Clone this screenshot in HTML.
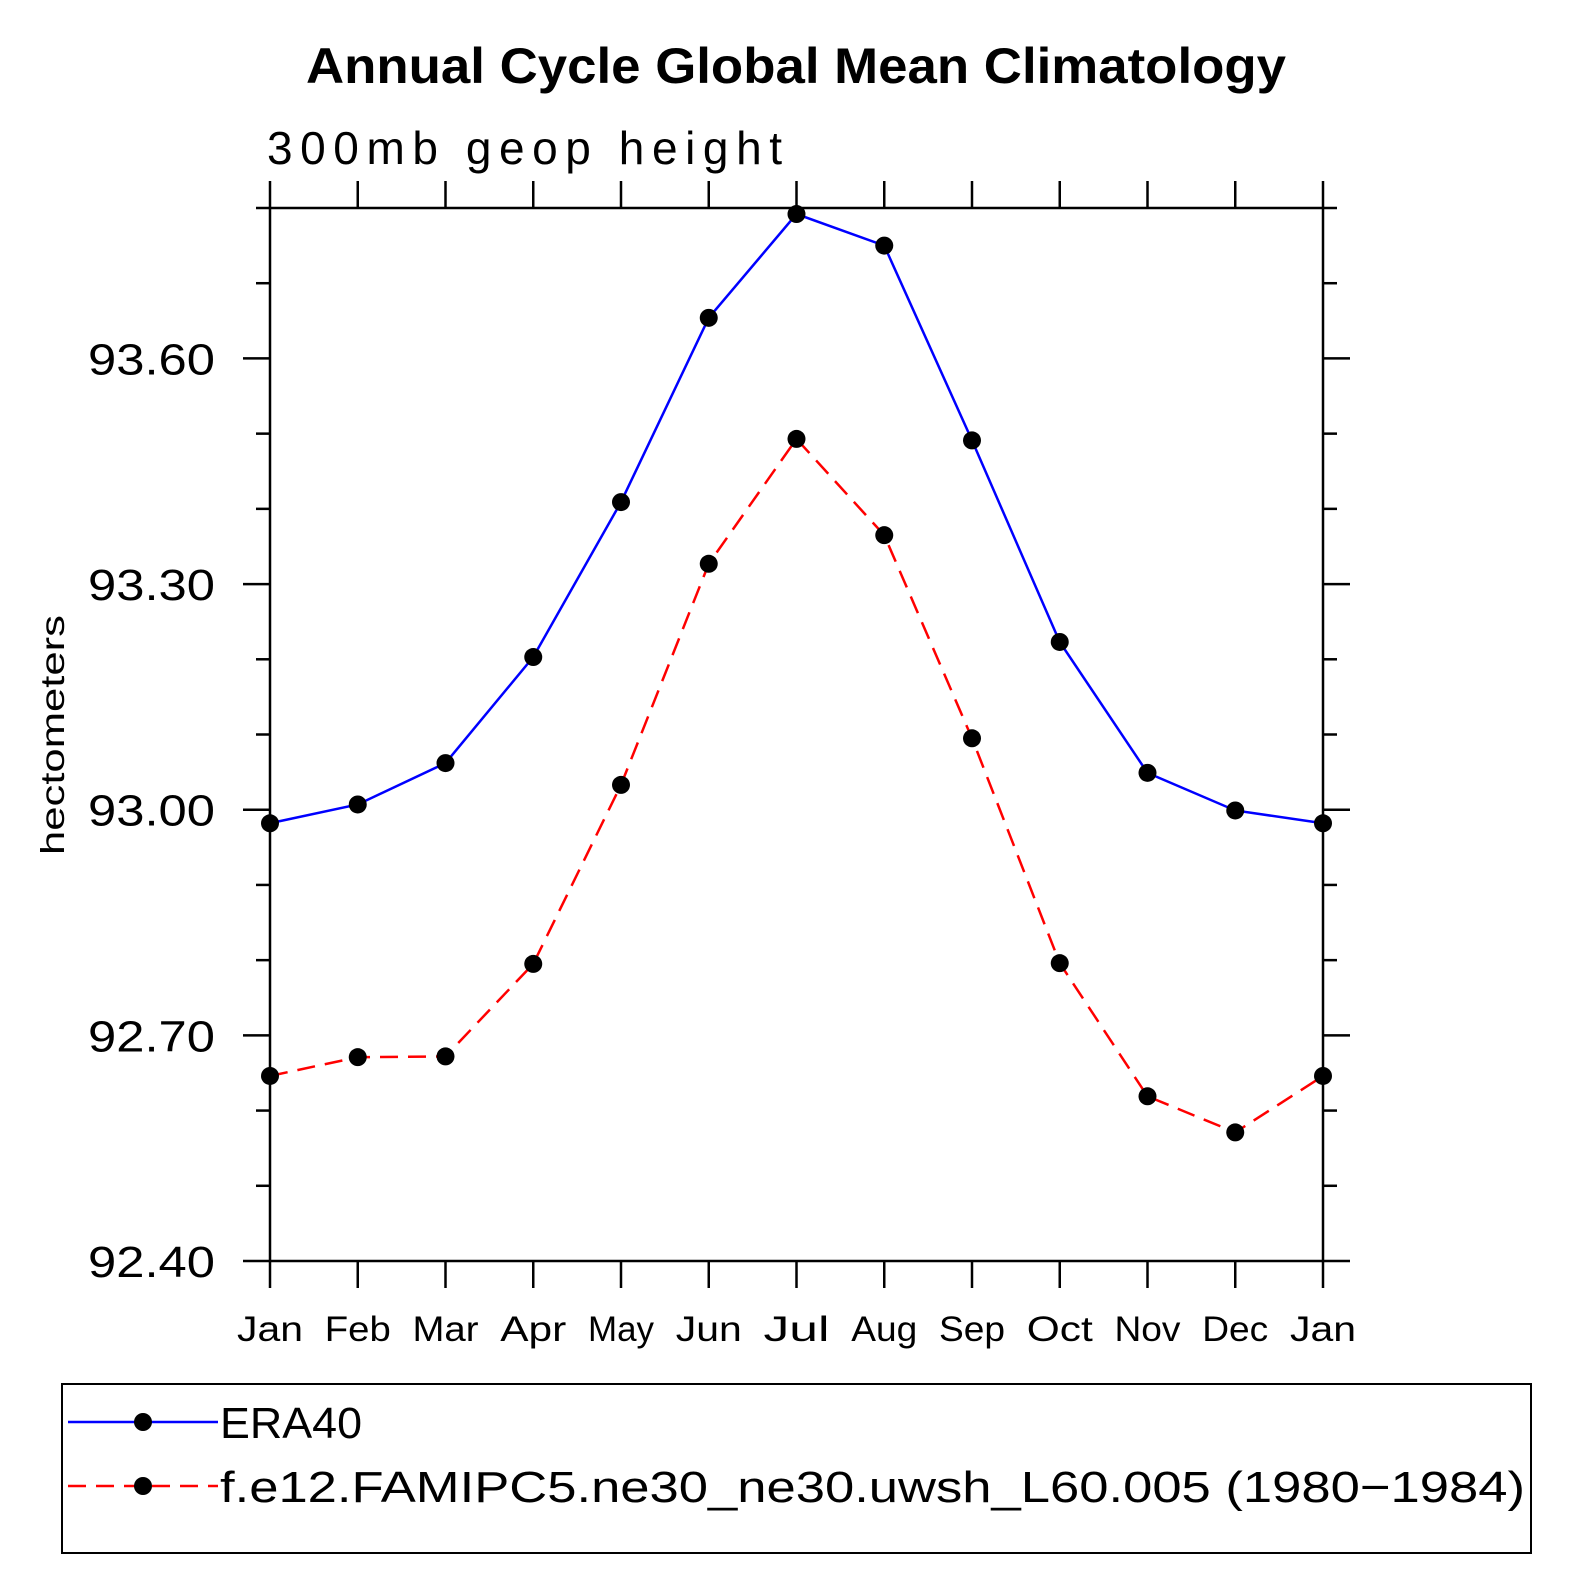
<!DOCTYPE html>
<html><head><meta charset="utf-8"><style>
html,body{margin:0;padding:0;background:#fff;}
svg{display:block;font-family:"Liberation Sans",sans-serif;}
</style></head><body>
<svg id="chart" width="1575" height="1575" viewBox="0 0 1575 1575" xmlns="http://www.w3.org/2000/svg">
<rect width="1575" height="1575" fill="#fff"/>
<text x="306" y="83" font-size="50" font-weight="bold" textLength="980" lengthAdjust="spacingAndGlyphs">Annual Cycle Global Mean Climatology</text>
<text x="267" y="164" font-size="46" font-weight="300" textLength="515" lengthAdjust="spacing">300mb  geop  height</text>
<text transform="translate(64,855) rotate(-90)" font-size="33" font-weight="300" textLength="240" lengthAdjust="spacingAndGlyphs">hectometers</text>
<g id="axes"></g>
<g id="series"></g>
<g id="legend">
<rect x="62" y="1384" width="1469" height="169" fill="none" stroke="#000" stroke-width="2"/>
<line x1="68" y1="1422" x2="218" y2="1422" stroke="#00f" stroke-width="2.5"/>
<circle cx="143" cy="1422" r="9"/>
<text x="220" y="1438" font-size="44" font-weight="300" textLength="142" lengthAdjust="spacingAndGlyphs">ERA40</text>
<line x1="68" y1="1486" x2="218" y2="1486" stroke="#f00" stroke-width="2.5" stroke-dasharray="18,10"/>
<circle cx="143" cy="1486" r="9"/>
<text x="220" y="1502" font-size="44" font-weight="300" textLength="1305" lengthAdjust="spacingAndGlyphs">f.e12.FAMIPC5.ne30_ne30.uwsh_L60.005 (1980−1984)</text>
</g>
</svg>
<script>
const months=["Jan","Feb","Mar","Apr","May","Jun","Jul","Aug","Sep","Oct","Nov","Dec","Jan"];
const era40=[92.982,93.007,93.062,93.203,93.409,93.654,93.792,93.750,93.491,93.223,93.049,92.999,92.982];
const model=[92.646,92.671,92.672,92.795,93.033,93.327,93.493,93.365,93.095,92.796,92.619,92.571,92.646];
const yTicks=[92.40,92.70,93.00,93.30,93.60];
const yMin=92.4,yMax=93.8;
const L=270,R=1323,T=208,B=1261;
const NS="http://www.w3.org/2000/svg";
const X=i=>L+(R-L)*i/(months.length-1);
const Y=v=>B-(v-yMin)/(yMax-yMin)*(B-T);
function mk(tag,attrs,parent){const e=document.createElementNS(NS,tag);for(const k in attrs)e.setAttribute(k,attrs[k]);parent.appendChild(e);return e;}
const axes=document.getElementById('axes'),ser=document.getElementById('series');
const frame=mk('rect',{x:L,y:T,width:R-L,height:B-T,fill:'none',stroke:'#000','stroke-width':2.5},axes);


months.forEach((m,i)=>{
  const x=X(i);
  mk('line',{x1:x,y1:B,x2:x,y2:B+27,stroke:'#000','stroke-width':2.5},axes);
  mk('line',{x1:x,y1:T,x2:x,y2:T-27,stroke:'#000','stroke-width':2.5},axes);
  const t=mk('text',{x:x,y:1341,'text-anchor':'middle','font-size':35,'font-weight':300,textLength:m.length*22,lengthAdjust:'spacingAndGlyphs'},axes);
  t.textContent=m;
  
  
});
for(let v=yMin;v<=yMax+1e-6;v+=0.1){
  const y=Y(v);const major=Math.abs(Math.round(v*10)%3)===(Math.round(yMin*10)%3);
  const len=major?27:14;
  mk('line',{x1:L,y1:y,x2:L-len,y2:y,stroke:'#000','stroke-width':2.5},axes);
  mk('line',{x1:R,y1:y,x2:R+len,y2:y,stroke:'#000','stroke-width':2.5},axes);
}
yTicks.forEach(v=>{
  const t=mk('text',{x:88,y:Y(v)+16,'font-size':44,'font-weight':300,textLength:127,lengthAdjust:'spacingAndGlyphs'},axes);
  t.textContent=v.toFixed(2);
  
  
});
function draw(vals,color,dash,name){
  const p=mk('polyline',{points:vals.map((v,i)=>X(i)+','+Y(v)).join(' '),fill:'none',stroke:color,'stroke-width':2.5,'stroke-dasharray':dash},ser);
  
  
  vals.forEach((v,i)=>{
    const c=mk('circle',{cx:X(i),cy:Y(v),r:9,fill:'#000'},ser);
    
    
  });
}
draw(era40,'#00f','none','era40');
draw(model,'#f00','18,10','model');
</script>
</body></html>
